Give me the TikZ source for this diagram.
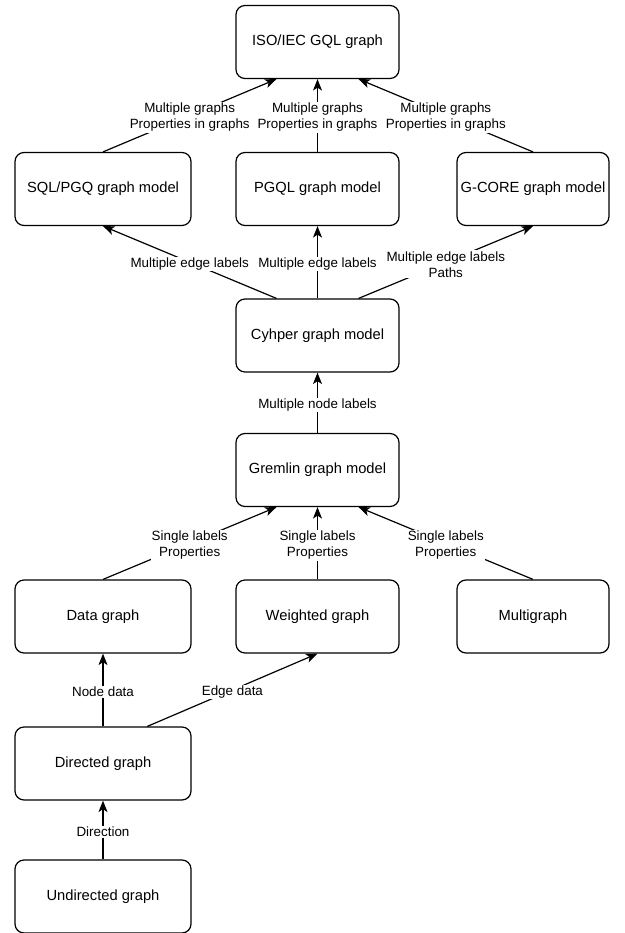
\documentclass[tikz,border=0pt]{standalone}
\usepackage{fontspec}
\setmainfont{Liberation Sans}
\usetikzlibrary{arrows.meta}
\usetikzlibrary{calc}

\begin{document}
\begin{tikzpicture}[x=1pt, y=-1pt,
  model/.style={draw, rounded corners=9pt, line width=1.2pt, minimum height=73pt,
    inner sep=0pt, font=\fontsize{14.7}{17}\selectfont},
  lbl/.style={fill=white, inner sep=1pt, yshift=-2pt, align=center,
    font=\fontsize{13.4}{16}\selectfont},
  link/.style={line width=1.2pt, -{Stealth[length=11.5pt, width=9pt, inset=3pt]}}]

  \useasboundingbox (0,0) rectangle (624,933);

  % models
  \node[model, minimum width=163pt] (gql) at (317.5, 42) {ISO/IEC GQL graph};
  \node[model, minimum width=176pt] (sqlpgq) at (103, 189) {SQL/PGQ graph model};
  \node[model, minimum width=163pt] (pgql) at (317.5, 189) {PGQL graph model};
  \node[model, minimum width=152pt] (gcore) at (533, 189) {G-CORE graph model};
  \node[model, minimum width=163pt] (cypher) at (317.5, 335.5) {Cyhper graph model};
  \node[model, minimum width=163pt] (gremlin) at (317.5, 470) {Gremlin graph model};
  \node[model, minimum width=176pt] (datag) at (103, 616.5) {Data graph};
  \node[model, minimum width=163pt] (weighted) at (317.5, 616.5) {Weighted graph};
  \node[model, minimum width=152pt] (multi) at (533, 616.5) {Multigraph};
  \node[model, minimum width=176pt] (directed) at (103, 763.5) {Directed graph};
  \node[model, minimum width=176pt] (undirected) at (103, 896.5) {Undirected graph};

  % top row
  \draw[link] (sqlpgq.north) -- ($(gql.south west)!0.25!(gql.south east)$)
    node[lbl, midway] {Multiple graphs\\Properties in graphs};
  \draw[link] (pgql.north) -- (gql.south)
    node[lbl, midway] {Multiple graphs\\Properties in graphs};
  \draw[link] (gcore.north) -- ($(gql.south west)!0.75!(gql.south east)$)
    node[lbl, midway] {Multiple graphs\\Properties in graphs};

  % from cypher
  \draw[link] ($(cypher.north west)!0.25!(cypher.north east)$) -- (sqlpgq.south)
    node[lbl, midway] {Multiple edge labels};
  \draw[link] (cypher.north) -- (pgql.south)
    node[lbl, midway] {Multiple edge labels};
  \draw[link] ($(cypher.north west)!0.75!(cypher.north east)$) -- (gcore.south)
    node[lbl, midway] {Multiple edge labels\\Paths};

  \draw[link] (gremlin.north) -- (cypher.south)
    node[lbl, midway] {Multiple node labels};

  % into gremlin
  \draw[link] (datag.north) -- ($(gremlin.south west)!0.25!(gremlin.south east)$)
    node[lbl, midway] {Single labels\\Properties};
  \draw[link] (weighted.north) -- (gremlin.south)
    node[lbl, midway] {Single labels\\Properties};
  \draw[link] (multi.north) -- ($(gremlin.south west)!0.75!(gremlin.south east)$)
    node[lbl, midway] {Single labels\\Properties};

  % bottom
  \draw[link] (directed.north) -- (datag.south)
    node[lbl, midway] {Node data};
  \draw[link] ($(directed.north west)!0.75!(directed.north east)$) -- (weighted.south)
    node[lbl, midway] {Edge data};
  \draw[link] (undirected.north) -- (directed.south)
    node[lbl, midway] {Direction};

\end{tikzpicture}
\end{document}
